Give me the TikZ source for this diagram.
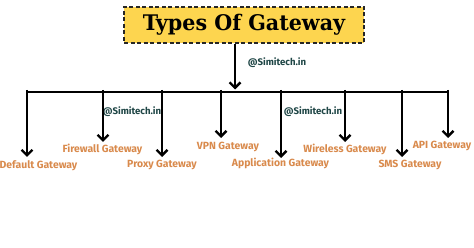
\documentclass[tikz,border=0pt]{standalone}
\usepackage{fontspec}
\usepackage{graphicx}
\setmainfont{DejaVu Serif}
\newfontfamily\labfont{Fira Sans}
\usetikzlibrary{arrows.meta}
\definecolor{titlefill}{HTML}{FDD54F}
\definecolor{labcol}{HTML}{D98A4C}
\definecolor{wmcol}{HTML}{1F4646}
\tikzset{
  titlebox/.style={draw=black!85, fill=titlefill, dashed, dash pattern=on 4pt off 2.5pt, line width=1.3pt, minimum width=240pt, minimum height=36pt, inner sep=0pt},
  gwlabel/.style={text=labcol, font=\labfont\bfseries\fontsize{10.4}{12}\selectfont, inner sep=0pt},
  wmark/.style={text=wmcol, font=\labfont\bfseries\fontsize{9.6}{11}\selectfont, inner sep=0pt},
  bus/.style={line width=2.4pt, black},
  drop/.style={line width=2.4pt, black, -{Straight Barb[length=5.5pt,width=11pt]}}
}
\begin{document}
\begin{tikzpicture}[x=1pt,y=-1pt]
\path[use as bounding box, fill=white] (0,0) rectangle (474,248);
% title
\node[titlebox] (title) at (244,25) {\scalebox{0.96}[1]{\bfseries\fontsize{21.5}{24}\selectfont Types Of Gateway}};
\coordinate (junction) at (235,92);
\draw[drop] (title.south -| junction) -- (235,89.5);
% bus
\coordinate (busL) at (27,92);
\coordinate (busR) at (448,92);
\draw[bus, line cap=rect] (busL) -- (busR);
% watermarks
\node[wmark] (wm1) at (277,63) {@Simitech.in};
\node[wmark] (wm2) at (132,112) {@Simitech.in};
\node[wmark] (wm3) at (313,112) {@Simitech.in};
% labels
\node[gwlabel] (default) at (38.5,166) {Default Gateway};
\node[gwlabel] (firewall) at (102.5,149) {Firewall Gateway};
\node[gwlabel] (proxy) at (162,165) {Proxy Gateway};
\node[gwlabel] (vpn) at (228,147) {VPN Gateway};
\node[gwlabel] (app) at (280.5,163) {Application Gateway};
\node[gwlabel] (wireless) at (345,149) {Wireless Gateway};
\node[gwlabel] (sms) at (410,165) {SMS Gateway};
\node[gwlabel] (api) at (442,146) {API Gateway};
% drop points
\foreach \n/\x/\t in {d/27/157, f/103/142, p/162/157, v/221/138, a/281/158, w/345/142, s/402/157, i/448/138}{
  \coordinate (top\n) at (\x,90);
  \coordinate (tip\n) at (\x,\t);
}
\draw[drop] (topd) -- (tipd);
\draw[drop] (topf) -- (tipf);
\draw[drop] (topp) -- (tipp);
\draw[drop] (topv) -- (tipv);
\draw[drop] (topa) -- (tipa);
\draw[drop] (topw) -- (tipw);
\draw[drop] (tops) -- (tips);
\draw[drop] (topi) -- (tipi);
\end{tikzpicture}
\end{document}
